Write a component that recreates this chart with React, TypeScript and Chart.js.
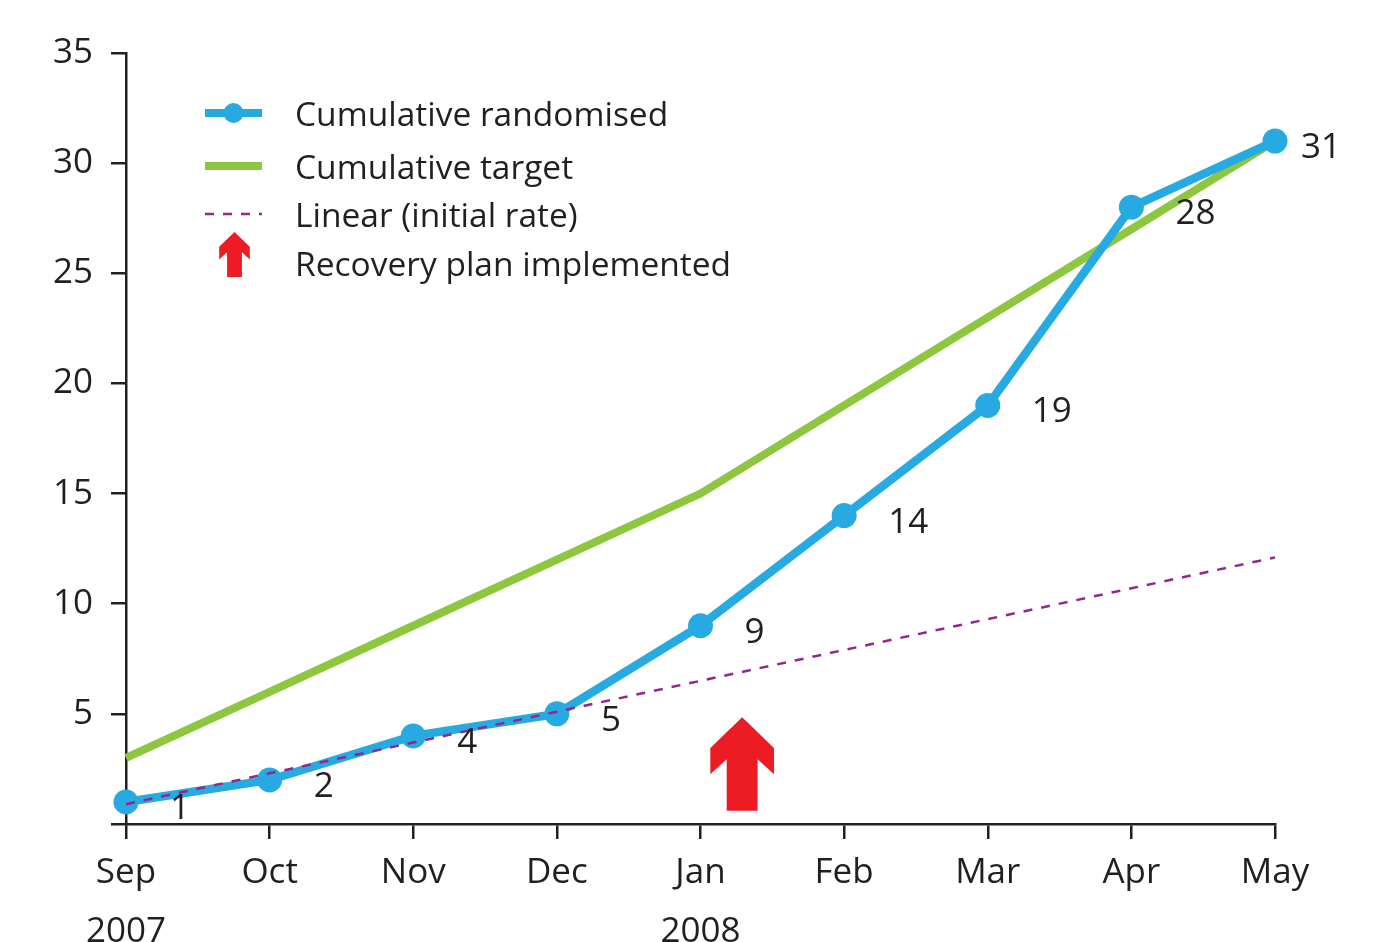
import React, { useEffect, useRef } from "react";
import { Chart, registerables } from "chart.js";

Chart.register(...registerables);

const months = ["Sep", "Oct", "Nov", "Dec", "Jan", "Feb", "Mar", "Apr", "May"];
const years = ["2007", "", "", "", "2008", "", "", "", ""];
const monthIndex = [0, 1, 2, 3, 4, 5, 6, 7, 8];
const randomised = [1, 2, 4, 5, 9, 14, 19, 28, 31];
const target = [3, 6, 9, 12, 15, 19, 23, 27, 31];
const linearInitial = [0.9, 2.3, 3.7, 5.1, 6.5, 7.9, 9.3, 10.7, 12.1];
// Recovery plan arrow: x position (months since Sep), tip & base values
const recoveryArrow = { x: 4.29, tip: 4.85, base: 0.6 };
const legendLabels = [
  "Cumulative randomised",
  "Cumulative target",
  "Linear (initial rate)",
  "Recovery plan implemented",
];

const BLUE = "#27aae1";
const GREEN = "#8dc63f";
const PURPLE = "#92278f";
const RED = "#ed1c24";
const INK = "#231f20";
const FONT = "'Open Sans', 'Noto Sans', sans-serif";

function drawArrow(ctx: CanvasRenderingContext2D, cx: number, tipY: number, baseY: number) {
  const H = baseY - tipY;
  const hw = 0.34 * H;
  const sw = 0.165 * H;
  const shoulder = tipY + 0.33 * H;
  const lowerOuter = tipY + 0.61 * H;
  const notch = tipY + 0.45 * H;
  ctx.beginPath();
  ctx.moveTo(cx, tipY);
  ctx.lineTo(cx + hw, shoulder);
  ctx.lineTo(cx + hw, lowerOuter);
  ctx.lineTo(cx + sw, notch);
  ctx.lineTo(cx + sw, baseY);
  ctx.lineTo(cx - sw, baseY);
  ctx.lineTo(cx - sw, notch);
  ctx.lineTo(cx - hw, lowerOuter);
  ctx.lineTo(cx - hw, shoulder);
  ctx.closePath();
  ctx.fillStyle = RED;
  ctx.fill();
}

const extrasPlugin = {
  id: "extras",
  afterDatasetsDraw(chart: any) {
    const ctx = chart.ctx as CanvasRenderingContext2D;
    const xs = chart.scales.x;
    const ys = chart.scales.y;
    // value labels
    const meta = chart.getDatasetMeta(1);
    ctx.save();
    ctx.font = `35px ${FONT}`;
    ctx.fillStyle = INK;
    ctx.textAlign = "left";
    ctx.textBaseline = "middle";
    meta.data.forEach((pt: any, i: number) => {
      const dx = i === meta.data.length - 1 ? 26 : 44;
      ctx.fillText(String(randomised[i]), pt.x + dx, pt.y + 7);
    });
    // recovery arrow
    drawArrow(
      ctx,
      xs.getPixelForValue(recoveryArrow.x),
      ys.getPixelForValue(recoveryArrow.tip),
      ys.getPixelForValue(recoveryArrow.base)
    );
    ctx.restore();
  },
  afterDraw(chart: any) {
    const ctx = chart.ctx as CanvasRenderingContext2D;
    const x0 = 205;
    const x1 = 262;
    const tx = 295;
    const rows = [113, 166, 214, 263];
    ctx.save();
    // blue
    ctx.strokeStyle = BLUE;
    ctx.lineWidth = 8;
    ctx.beginPath();
    ctx.moveTo(x0, rows[0]);
    ctx.lineTo(x1, rows[0]);
    ctx.stroke();
    ctx.fillStyle = BLUE;
    ctx.beginPath();
    ctx.arc((x0 + x1) / 2, rows[0], 10, 0, Math.PI * 2);
    ctx.fill();
    // green
    ctx.strokeStyle = GREEN;
    ctx.beginPath();
    ctx.moveTo(x0, rows[1]);
    ctx.lineTo(x1, rows[1]);
    ctx.stroke();
    // purple dashed
    ctx.strokeStyle = PURPLE;
    ctx.lineWidth = 2.5;
    ctx.setLineDash([9, 9]);
    ctx.beginPath();
    ctx.moveTo(x0, rows[2]);
    ctx.lineTo(x1, rows[2]);
    ctx.stroke();
    ctx.setLineDash([]);
    // arrow
    drawArrow(ctx, (x0 + x1) / 2 + 1, 232, 277);
    // text
    ctx.font = `33.5px ${FONT}`;
    ctx.fillStyle = INK;
    ctx.textAlign = "left";
    ctx.textBaseline = "middle";
    legendLabels.forEach((t, i) => ctx.fillText(t, tx, rows[i] + 3));
    ctx.restore();
  },
};

export default function App() {
  const ref = useRef<HTMLCanvasElement | null>(null);
  useEffect(() => {
    if (!ref.current) return;
    const toPts = (vals: number[]) => vals.map((v, i) => ({ x: monthIndex[i], y: v }));
    const chart = new Chart(ref.current, {
      type: "line",
      data: {
        datasets: [
          {
            label: legendLabels[2],
            data: toPts(linearInitial),
            borderColor: PURPLE,
            borderWidth: 2.5,
            borderDash: [9, 9],
            pointRadius: 0,
            fill: false,
            clip: false as any,
          },
          {
            label: legendLabels[0],
            data: toPts(randomised),
            borderColor: BLUE,
            backgroundColor: BLUE,
            borderWidth: 8.5,
            pointRadius: 12.5,
            pointBorderWidth: 0,
            pointBackgroundColor: BLUE,
            fill: false,
            clip: false as any,
          },
          {
            label: legendLabels[1],
            data: toPts(target),
            borderColor: GREEN,
            borderWidth: 8,
            pointRadius: 0,
            fill: false,
            clip: false as any,
          },
        ],
      },
      options: {
        animation: false,
        responsive: true,
        maintainAspectRatio: false,
        layout: { padding: { left: 0, top: 53, right: 102, bottom: 0 } },
        plugins: { legend: { display: false }, tooltip: { enabled: false } },
        scales: {
          x: {
            type: "linear",
            min: 0,
            max: 8,
            afterFit: (s: any) => {
              s.height = 118;
            },
            border: { display: true, color: INK, width: 2.5 },
            grid: {
              display: true,
              drawOnChartArea: false,
              drawTicks: true,
              tickLength: 15,
              color: INK,
              lineWidth: 2.5,
            },
            ticks: {
              stepSize: 1,
              autoSkip: false,
              maxRotation: 0,
              padding: 4,
              color: INK,
              font: { family: FONT, size: 35, lineHeight: 1.7 },
              callback: (v: any) => {
                const i = Math.round(Number(v));
                return years[i] ? [months[i], years[i]] : months[i];
              },
            },
          },
          y: {
            type: "linear",
            min: 0,
            max: 35,
            afterFit: (s: any) => {
              s.width = 126;
            },
            border: { display: true, color: INK, width: 2.5 },
            grid: {
              display: true,
              drawOnChartArea: false,
              drawTicks: true,
              tickLength: 15,
              color: INK,
              lineWidth: 2.5,
            },
            ticks: {
              stepSize: 5,
              padding: 18,
              color: INK,
              font: { family: FONT, size: 35 },
              callback: (v: any) => (Number(v) === 0 ? "" : String(v)),
            },
          },
        },
      },
      plugins: [extrasPlugin],
    });
    return () => chart.destroy();
  }, []);
  return (
    <div style={{ position: "absolute", left: 0, top: 0, width: 1377, height: 942 }}>
      <canvas ref={ref} />
    </div>
  );
}
